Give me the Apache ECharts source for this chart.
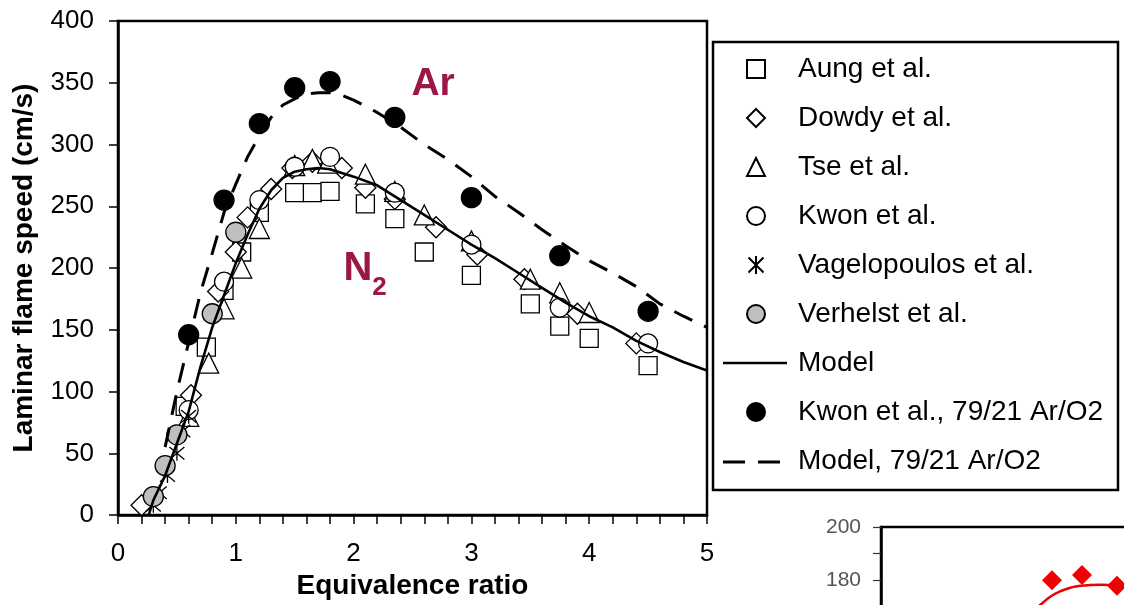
<!DOCTYPE html>
<html><head><meta charset="utf-8">
<script src="https://cdn.jsdelivr.net/npm/echarts@6/dist/echarts.min.js"></script>
<style>html,body{margin:0;padding:0;background:#fff}#c{width:1124px;height:605px}</style>
</head><body><div id="c"></div>
<script>
// ---- data (equivalence ratio, laminar flame speed cm/s) ----
const xTickValues = [0, 1, 2, 3, 4, 5];
const yTickValues = [0, 50, 100, 150, 200, 250, 300, 350, 400];
const aung = [[0.57,88],[0.75,136],[0.9,182],[1.05,213],[1.2,245],[1.5,261],[1.65,261],[1.8,262],[2.1,252],[2.35,240],[2.6,213],[3.0,194],[3.5,171],[3.75,153],[4.0,143],[4.5,121]];
const dowdy = [[0.2,8],[0.62,97],[0.85,181],[1.0,213],[1.1,241],[1.3,264],[1.48,281],[1.65,286],[1.9,281],[2.1,265],[2.35,256],[2.7,233],[3.05,211],[3.45,191],[3.9,163],[4.4,139]];
const tse = [[0.6,80],[0.77,123],[0.9,167],[1.05,200],[1.2,232],[1.5,283],[1.65,288],[1.78,285],[2.1,276],[2.35,262],[2.6,243],[3.0,222],[3.5,191],[3.75,180],[4.0,164]];
const kwon = [[0.6,85],[0.9,189],[1.2,255],[1.5,282],[1.8,290],[2.35,261],[3.0,219],[3.75,168],[4.5,139]];
const vagelopoulos = [[0.3,8],[0.35,18],[0.42,32],[0.5,50],[0.55,68],[0.6,80]];
const verhelst = [[0.3,15],[0.4,40],[0.5,65],[0.8,163],[1.0,229]];
const modelN2 = [[0.26,0],[0.3,12],[0.4,32],[0.5,58],[0.6,84],[0.7,120],[0.8,152],[0.9,178],[1.0,204],[1.1,227],[1.2,248],[1.3,263],[1.4,273],[1.5,278],[1.6,280],[1.7,281],[1.8,280],[1.9,277],[2.0,274],[2.2,267],[2.4,255],[2.6,243],[2.8,231],[3.0,219],[3.2,208],[3.4,196],[3.6,184],[3.8,172],[4.0,161],[4.2,152],[4.4,141],[4.6,132],[4.8,124],[5.0,117]];
const kwonAr = [[0.6,146],[0.9,255],[1.2,317],[1.5,346],[1.8,351],[2.35,322],[3.0,257],[3.75,210],[4.5,165]];
const modelAr = [[0.4,55],[0.5,100],[0.6,140],[0.7,180],[0.8,212],[0.9,245],[1.0,268],[1.1,290],[1.2,307],[1.3,322],[1.4,332],[1.5,337],[1.6,341],[1.7,342],[1.8,342],[1.9,340],[2.0,336],[2.2,326],[2.4,314],[2.6,300],[2.8,288],[3.0,274],[3.2,258],[3.4,245],[3.6,231],[3.8,218],[4.0,206],[4.2,196],[4.4,185],[4.6,171],[4.8,161],[5.0,152]];
const seriesNames = ['Aung et al.','Dowdy et al.','Tse et al.','Kwon et al.','Vagelopoulos et al.','Verhelst et al.','Model','Kwon et al., 79/21 Ar/O2','Model, 79/21 Ar/O2'];
const labelAr = {text:'Ar', at:[2.675,349]};
const labelN = {text:'N', at:[2.036,199]};
const labelSub = {text:'2', at:[2.22,184]};
// fragment of a neighbouring figure (bottom right)
const fragTicks = [180, 200];
const fragDiamonds = [[1.71,180],[2.01,182],[2.36,178]];
const fragCurve = [[1.4,166],[1.5,168],[1.6,171],[1.7,174],[1.8,176],[1.9,177.3],[2.0,178],[2.2,178.3],[2.4,177.6],[2.6,176],[2.8,173.5]];

const FONT = "'Liberation Sans', Arial, sans-serif";
const MAROON = '#9a1747';
const chart = echarts.init(document.getElementById('c'), null, {renderer:'canvas'});
const sc = (name, data, symbol, size, fill) => ({
  name, type:'scatter', data, symbol, symbolSize:size, xAxisIndex:0, yAxisIndex:0,
  itemStyle:{color:fill, borderColor:'#000', borderWidth:1.3, opacity:1}, z:3
});
const astPath = 'path://M0,0L10,10M10,0L0,10M5,-1L5,11';
// legend: line items draw their own long line icons (graphic below), so hide the short legend stroke
const lineLegend = name => ({name, itemStyle:{opacity:0}, lineStyle:{opacity:0}});
const option = {
  animation:false,
  backgroundColor:'#fff',
  textStyle:{fontFamily:FONT},
  grid:[
    {left:118, top:21, right:417, bottom:88, show:true, borderColor:'#000', borderWidth:2.5, containLabel:false},
    {left:881, top:527, width:320, height:80, show:true, borderColor:'#000', borderWidth:2.5, containLabel:false, outerBoundsMode:'none'}
  ],
  xAxis:[
    {type:'value', gridIndex:0, min:xTickValues[0], max:xTickValues[xTickValues.length-1], interval:1,
     name:'Equivalence ratio', nameLocation:'middle', nameGap:52,
     nameTextStyle:{fontFamily:FONT, fontSize:28, fontWeight:'bold', color:'#000'},
     axisLine:{show:true, lineStyle:{color:'#000', width:2.5}},
     axisTick:{show:true, length:9, lineStyle:{color:'#000', width:1.5}},
     minorTick:{show:true, splitNumber:5, length:9, lineStyle:{color:'#000', width:1.5}},
     axisLabel:{fontFamily:FONT, fontSize:26, color:'#000', margin:26},
     splitLine:{show:false}},
    {type:'value', gridIndex:1, min:0, max:3.2, show:false}
  ],
  yAxis:[
    {type:'value', gridIndex:0, min:yTickValues[0], max:yTickValues[yTickValues.length-1], interval:50,
     name:'Laminar flame speed (cm/s)', nameLocation:'middle', nameGap:80, nameRotate:90,
     nameTextStyle:{fontFamily:FONT, fontSize:28, fontWeight:'bold', color:'#000'},
     axisLine:{show:true, lineStyle:{color:'#000', width:2.5}},
     axisTick:{show:true, length:9, lineStyle:{color:'#000', width:1.5}},
     axisLabel:{fontFamily:FONT, fontSize:26, color:'#000', margin:24},
     splitLine:{show:false}},
    {type:'value', gridIndex:1, min:170, max:200, interval:10,
     axisLine:{show:true, lineStyle:{color:'#000', width:2.5}},
     axisTick:{show:true, length:8, lineStyle:{color:'#333', width:1.2}},
     axisLabel:{fontFamily:FONT, fontSize:21, color:'#555', margin:20,
       formatter:v => fragTicks.indexOf(v) >= 0 ? String(v) : ''},
     splitLine:{show:false}}
  ],
  legend:{
    show:true, orient:'vertical', left:746, top:55, padding:0,
    itemWidth:18, itemHeight:18, itemGap:21,
    data:[seriesNames[0],seriesNames[1],seriesNames[2],seriesNames[3],seriesNames[4],seriesNames[5],
          lineLegend(seriesNames[6]), seriesNames[7], lineLegend(seriesNames[8])],
    textStyle:{fontFamily:FONT, fontSize:28, color:'#000', lineHeight:28, padding:[0,0,0,28]},
    selectedMode:false
  },
  series:[
    sc(seriesNames[0], aung, 'rect', 18, '#fff'),
    sc(seriesNames[1], dowdy, 'diamond', 21, '#fff'),
    sc(seriesNames[2], tse, 'triangle', 20, '#fff'),
    sc(seriesNames[3], kwon, 'circle', 19, '#fff'),
    {name:seriesNames[4], type:'scatter', data:vagelopoulos, symbol:astPath, symbolSize:15,
     itemStyle:{color:'rgba(0,0,0,0)', borderColor:'#000', borderWidth:1.3, opacity:1}, z:3},
    sc(seriesNames[5], verhelst, 'circle', 20, '#bfbfbf'),
    {name:seriesNames[6], type:'line', data:modelN2, showSymbol:false, symbol:'none', smooth:false,
     lineStyle:{color:'#000', width:2.6}, itemStyle:{color:'#000'}, z:4},
    sc(seriesNames[7], kwonAr, 'circle', 20, '#000'),
    {name:seriesNames[8], type:'line', data:modelAr, showSymbol:false, symbol:'none', smooth:false,
     lineStyle:{color:'#000', width:3, type:[20,13]}, itemStyle:{color:'#000'}, z:4},
    {name:'frag-curve', type:'line', xAxisIndex:1, yAxisIndex:1, data:fragCurve, showSymbol:false, symbol:'none',
     smooth:true, lineStyle:{color:'#e8000b', width:2.5}, silent:true},
    {name:'frag-diamonds', type:'scatter', xAxisIndex:1, yAxisIndex:1, data:fragDiamonds, symbol:'diamond', symbolSize:20,
     itemStyle:{color:'#f00000', opacity:1}, silent:true}
  ]
};
chart.setOption(option);
const px = p => chart.convertToPixel({gridIndex:0}, p);
const pAr = px(labelAr.at), pN = px(labelN.at), pSub = px(labelSub.at);
chart.setOption({graphic:[
  {type:'rect', id:'legendBox', shape:{x:713, y:42, width:405, height:448}, style:{fill:'none', stroke:'#000', lineWidth:2.5}, z:10},
  {type:'line', id:'legModel', shape:{x1:723, y1:363, x2:787, y2:363}, style:{stroke:'#000', lineWidth:2.6}, z:10},
  {type:'line', id:'legModelAr', shape:{x1:723, y1:462, x2:781, y2:462}, style:{stroke:'#000', lineWidth:3, lineDash:[22,13]}, z:10},
  {type:'text', id:'ar', x:pAr[0], y:pAr[1], style:{text:labelAr.text, fontFamily:FONT, fontSize:39, fontWeight:'bold', fill:MAROON, align:'center', verticalAlign:'middle'}, z:10},
  {type:'text', id:'n', x:pN[0], y:pN[1], style:{text:labelN.text, fontFamily:FONT, fontSize:40, fontWeight:'bold', fill:MAROON, align:'center', verticalAlign:'middle'}, z:10},
  {type:'text', id:'n2', x:pSub[0], y:pSub[1], style:{text:labelSub.text, fontFamily:FONT, fontSize:26, fontWeight:'bold', fill:MAROON, align:'center', verticalAlign:'middle'}, z:10}
]});
</script></body></html>
